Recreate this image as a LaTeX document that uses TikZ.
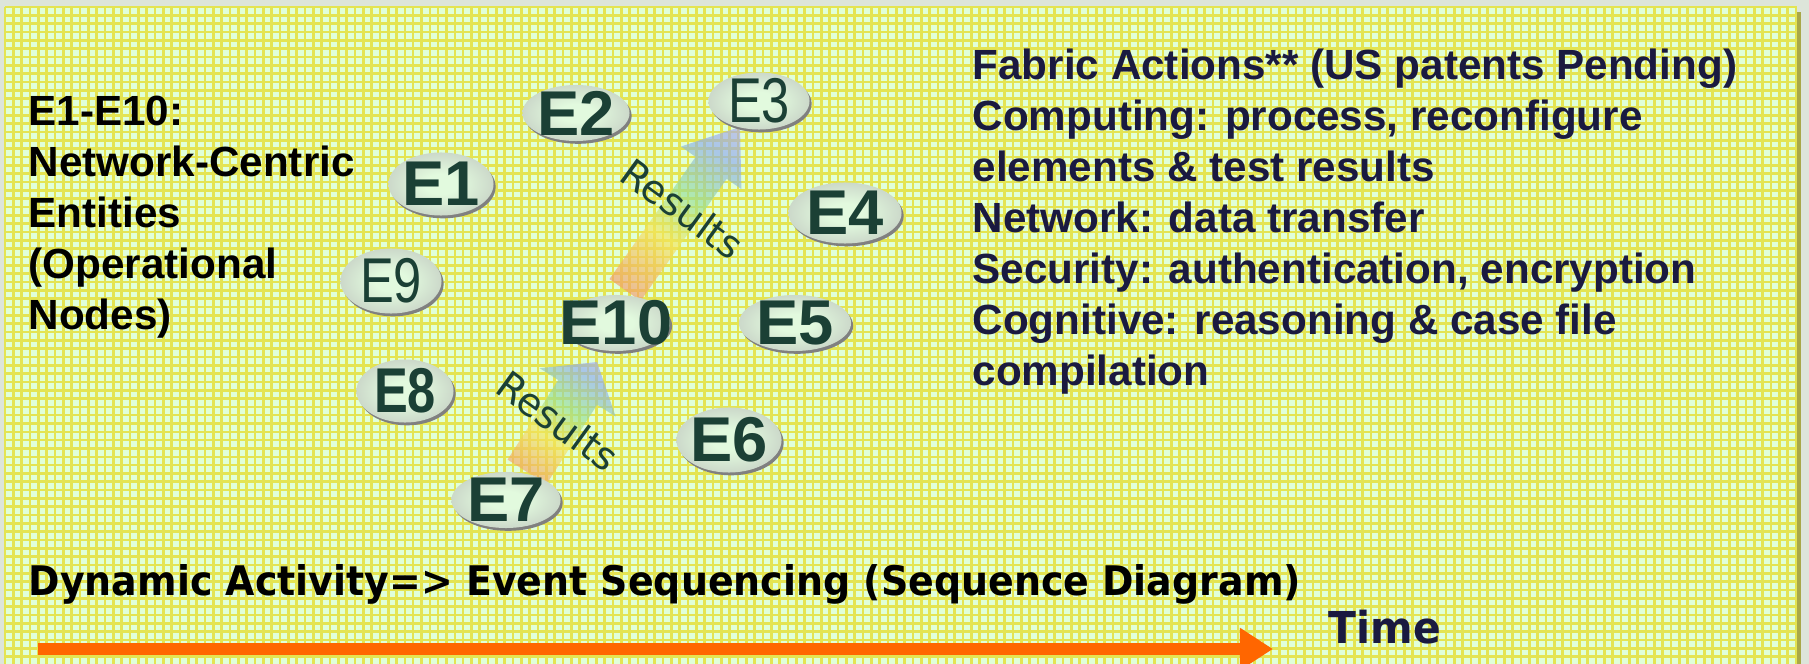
\documentclass[tikz,border=0pt]{standalone}
\usepackage{fontspec}
\setmainfont{Liberation Sans}
\newfontfamily\narrowfont[FakeStretch=0.8]{Liberation Sans}
\newfontfamily\verdfont[FakeStretch=0.93]{DejaVu Sans}
\newfontfamily\resfont{DejaVu Sans}
\usepackage{tikz}
\tikzset{>=latex}
\usetikzlibrary{calc,shapes.geometric,shadows,arrows.meta,positioning}

\definecolor{outerbg}{RGB}{221,229,218}
\definecolor{panelmint}{RGB}{224,255,217}
\definecolor{gridyel}{RGB}{228,228,82}
\definecolor{panelolive}{RGB}{168,168,72}
\definecolor{entmint}{RGB}{226,250,222}
\definecolor{entgray}{RGB}{182,184,182}
\definecolor{entrim}{RGB}{128,128,128}
\definecolor{entgreen}{RGB}{27,64,53}
\definecolor{navytext}{RGB}{26,26,64}
\definecolor{timeorange}{RGB}{255,102,0}
\definecolor{rbred}{RGB}{242,150,110}
\definecolor{rbyel}{RGB}{245,230,90}
\definecolor{rbgrn}{RGB}{150,222,150}
\definecolor{rbblu}{RGB}{140,170,240}
\definecolor{rbpur}{RGB}{195,170,230}

\pgfdeclareradialshading{entshade}{\pgfpoint{0bp}{0bp}}{color(0bp)=(entmint); color(8bp)=(entmint); color(42bp)=(entgray); color(50bp)=(entgray)}
\pgfdeclareverticalshading{rainbow}{100bp}{color(0bp)=(rbred); color(20bp)=(rbred); color(42bp)=(rbyel); color(57bp)=(rbgrn); color(74bp)=(rbblu); color(90bp)=(rbpur); color(100bp)=(rbpur)}

\pgfdeclarelayer{bg}
\pgfdeclarelayer{arrowlayer}
\pgfsetlayers{bg,arrowlayer,main}

\tikzset{
  entity/.style={ellipse, inner sep=0pt, shade, shading=entshade,
    drop shadow={shadow xshift=0.6pt, shadow yshift=-0.8pt, fill=entrim, opacity=1}},
  entlabel/.style={inner sep=0pt, text=entgreen, font=\bfseries\fontsize{18}{18}\selectfont},
  thinlabel/.style={entlabel, font=\narrowfont\fontsize{18}{18}\selectfont},
  narrowbold/.style={entlabel, font=\narrowfont\bfseries\fontsize{18}{18}\selectfont},
  resultfill/.style={shading=rainbow, shading angle=-34, fill opacity=0.65},
  restext/.style={inner sep=0pt, text=entgreen, font=\resfont\fontsize{11}{11}\selectfont},
  gridln/.style={draw=gridyel, line width=0.75pt},
  blocktext/.style={anchor=north west, inner sep=0pt, align=left, font=\bfseries\fontsize{12}{14.5}\selectfont},
  seqtext/.style={anchor=base west, inner sep=0pt, font=\verdfont\bfseries\fontsize{11.6}{14}\selectfont},
  timearrow/.style={draw=timeorange, line width=3.4pt, -{Triangle[length=0.33cm,width=0.4cm]}}
}

% block arrow: tail, tip, half shaft, half head, head length
\newcommand{\resarrow}[5]{%
  \coordinate (hb) at ($(#2)!#5!(#1)$);
  \shade[resultfill] ($(#1)!#3!90:(#2)$) -- ($(hb)!#3!90:(#2)$) -- ($(hb)!#4!90:(#2)$)
    -- (#2) -- ($(hb)!#4!-90:(#2)$) -- ($(hb)!#3!-90:(#2)$) -- ($(#1)!#3!-90:(#2)$) -- cycle;
}

\begin{document}
\begin{tikzpicture}[x=0.01cm, y=-0.01cm]
    \useasboundingbox (0,0) rectangle (1809,664);
    \clip (0,0) rectangle (1809,664);

    % entities
    \node[entity, minimum width=1.05cm, minimum height=0.63cm, label={[entlabel]center:E1}] (e1) at (441,184) {};
    \node[entity, minimum width=1.07cm, minimum height=0.56cm, label={[entlabel]center:E2}] (e2) at (576,113) {};
    \node[entity, minimum width=1.01cm, minimum height=0.57cm, label={[thinlabel]center:E3}] (e3) at (759,101) {};
    \node[entity, minimum width=1.13cm, minimum height=0.61cm, label={[entlabel]center:E4}] (e4) at (845,213) {};
    \node[entity, minimum width=1.12cm, minimum height=0.56cm, label={[entlabel]center:E5}] (e5) at (795,323) {};
    \node[entity, minimum width=1.05cm, minimum height=0.65cm, label={[entlabel]center:E6}] (e6) at (729,440) {};
    \node[entity, minimum width=1.09cm, minimum height=0.56cm, label={[entlabel]center:E7}] (e7) at (506,500) {};
    \node[entity, minimum width=0.97cm, minimum height=0.63cm, label={[narrowbold]center:E8}] (e8) at (405,391) {};
    \node[entity, minimum width=1.01cm, minimum height=0.65cm, label={[thinlabel]center:E9}] (e9) at (391,281) {};
    \node[entity, minimum width=1.08cm, minimum height=0.56cm, label={[entlabel]center:E10}] (e10) at (616,323) {};

    % results arrows
    \coordinate (r1a) at ($(e10)+(9,-33)$);
    \coordinate (r1b) at ($(e3)+(-19,26)$);
    \coordinate (r2a) at ($(e7)+(21,-28)$);
    \coordinate (r2b) at ($(e10)+(-19,39)$);
    \begin{pgfonlayer}{arrowlayer}
        \resarrow{r1a}{r1b}{0.19cm}{0.37cm}{0.5cm}
        \resarrow{r2a}{r2b}{0.23cm}{0.45cm}{0.36cm}
    \end{pgfonlayer}
    \node[restext, rotate=-36] (res1) at ($(r1a)!0.5!(r1b)$) {Results};
    \node[restext, rotate=-36] (res2) at ($(r2a)!0.5!(r2b)+(-4,4)$) {Results};

    % texts
    \node[blocktext] (ents) at (28,95) {E1-E10:\\Network-Centric\\Entities\\(Operational\\Nodes)};
    \node[blocktext, text=navytext] (acts) at (972,48) {Fabric Actions** (US patents Pending)\\Computing: process, reconfigure\\elements \& test results\\Network: data transfer\\Security: authentication, encryption\\Cognitive: reasoning \& case file\\compilation};
    \node[seqtext] (seq) at (28,595) {Dynamic Activity=> Event Sequencing (Sequence Diagram)};
    \node[seqtext, text=navytext, font=\verdfont\bfseries\fontsize{12.5}{14}\selectfont] (tlabel) at (1328,643) {Time};

    % time line
    \coordinate (tstart) at (38,649);
    \coordinate (tend) at (1273,649);
    \draw[timearrow] (tstart) -- (tend);

    % background panel and grid
    \begin{pgfonlayer}{bg}
        \fill[outerbg] (0,0) rectangle (1809,664);
        \fill[panelolive] (9,12) rectangle (1801,670);
        \fill[panelmint] (5,7) rectangle (1797,670);
        \foreach \i in {0,...,215}
        {
        \draw[gridln] (5+\i*8.33,7) -- (5+\i*8.33,664);
        }
        \foreach \j in {0,...,79}
        {
        \draw[gridln] (5,7+\j*8.33) -- (1797,7+\j*8.33);
        }
    \end{pgfonlayer}
\end{tikzpicture}
\end{document}
